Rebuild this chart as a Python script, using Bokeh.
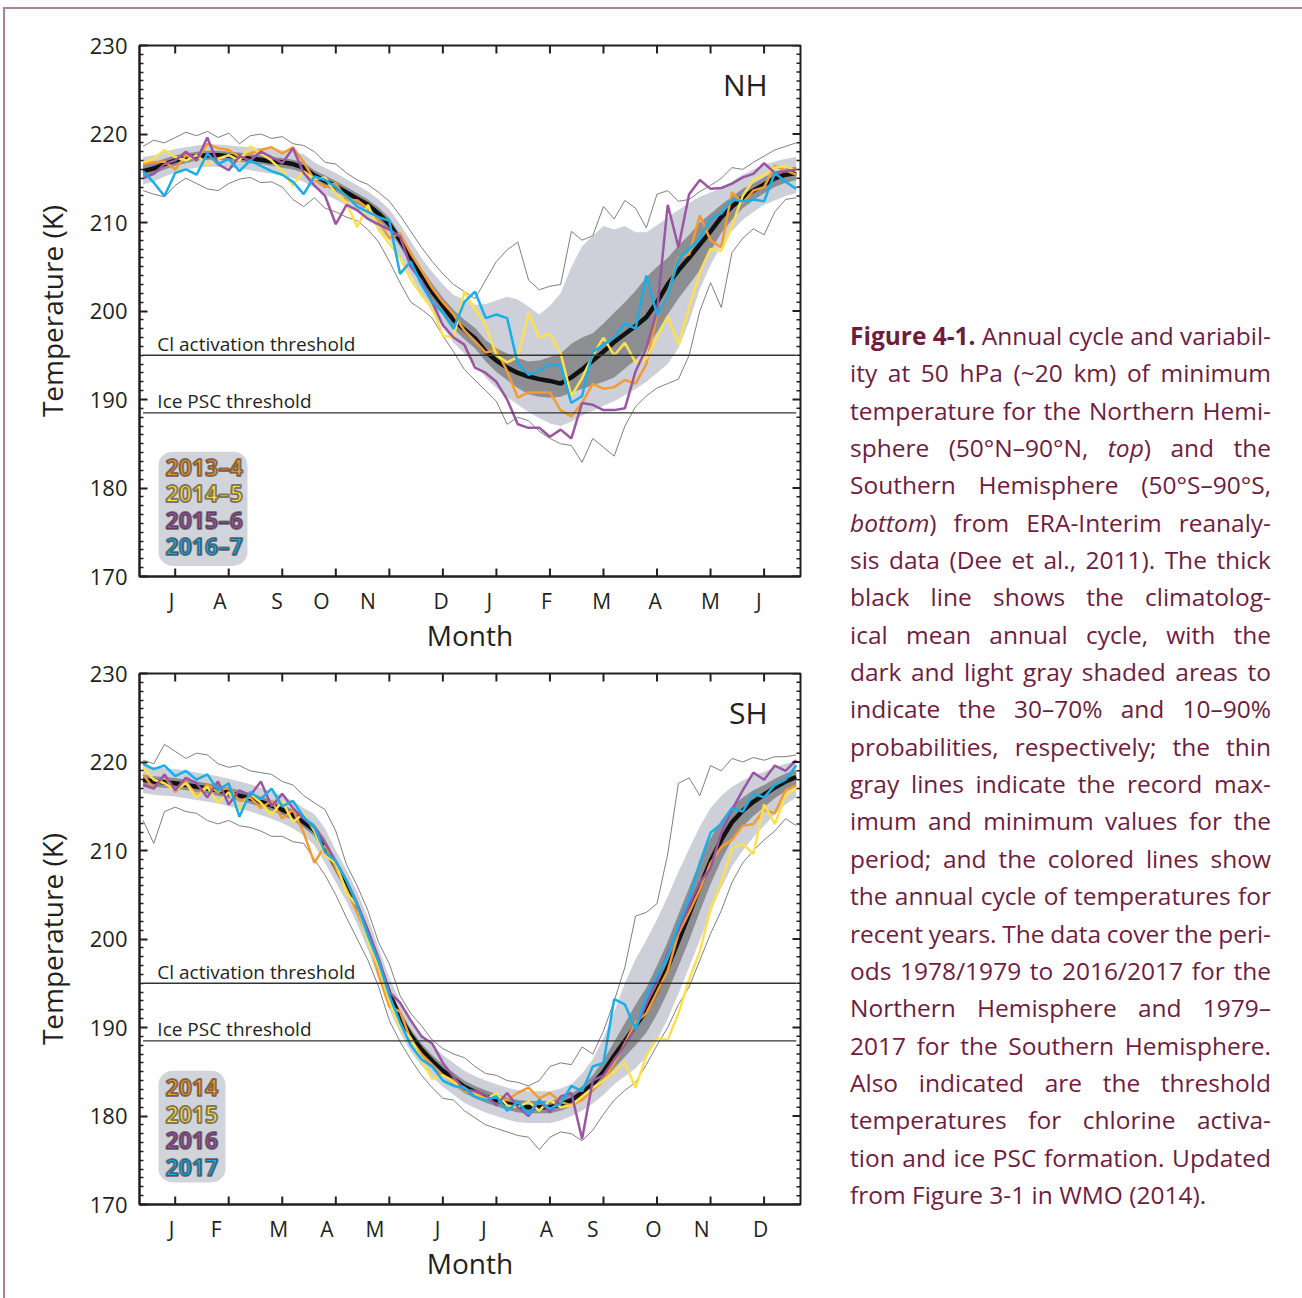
import math
from bokeh.plotting import figure
from bokeh.models import Range1d, FixedTicker, Div, CustomJSTickFormatter
from bokeh.layouts import row, column
from bokeh.embed import file_html
from bokeh.resources import INLINE
from bokeh.core.properties import value

# ---------------- data ----------------
# x positions: days from the first month tick (one month tick every 30 units)
DAY = [-18, -12, -6, 0, 6, 12, 18, 24, 30, 36, 42, 48, 54, 60, 66, 72, 78, 84, 90, 96,
       102, 108, 114, 120, 126, 132, 138, 144, 150, 156, 162, 168, 174, 180, 186, 192, 198,
       204, 210, 216, 222, 228, 234, 240, 246, 252, 258, 264, 270, 276, 282, 288, 294, 300,
       306, 312, 318, 324, 330, 336, 342, 348]
X_MIN, X_MAX = -20, 350.4
Y_MIN, Y_MAX = 170, 230

MONTH_TICKS = [0, 30, 60, 90, 120, 150, 180, 210, 240, 270, 300, 330]
NH_MONTHS = ["J", "A", "S", "O", "N", "D", "J", "F", "M", "A", "M", "J"]
NH_MONTH_POS = [-2, 25, 57, 82, 108, 149, 176, 208, 239, 269, 300, 327]
SH_MONTHS = ["J", "F", "M", "A", "M", "J", "J", "A", "S", "O", "N", "D"]
SH_MONTH_POS = [-2, 23, 58, 85, 112, 147, 173, 208, 234, 268, 295, 328]
TEMP_TICKS = [170, 180, 190, 200, 210, 220, 230]

CL_THRESHOLD = 195.0
ICE_THRESHOLD = 188.5

NH_YEARS = ["2013\u20134", "2014\u20135", "2015\u20136", "2016\u20137"]
SH_YEARS = ["2014", "2015", "2016", "2017"]
YEAR_COLORS = ["#F39B30", "#FBE150", "#9B56A3", "#1AAEE8"]

NH_MEAN = [215.8, 216.1, 216.6, 217.0, 217.3, 217.5, 217.6, 217.6, 217.5, 217.4,
           217.2, 217.1, 216.9, 216.8, 216.6, 216.2, 215.3, 214.7, 214.1, 213.4,
           212.7, 212.0, 211.0, 209.8, 208.0, 206.0, 204.0, 202.2, 200.6, 199.0,
           197.9, 196.9, 195.4, 194.4, 193.6, 193.0, 192.6, 192.3, 192.1, 191.8,
           192.5, 193.4, 194.4, 195.4, 196.5, 197.4, 198.3, 199.3, 201.0, 203.0,
           204.6, 206.0, 207.5, 209.0, 210.6, 211.8, 212.8, 213.6, 214.3, 215.0,
           215.4, 215.6]
NH_P90 = [217.4, 217.6, 218.0, 218.3, 218.5, 218.7, 218.8, 218.8, 218.7, 218.6,
          218.5, 218.4, 218.3, 218.2, 218.0, 217.7, 216.8, 216.2, 215.6, 214.9,
          214.2, 213.5, 212.6, 211.5, 209.8, 207.9, 206.0, 204.4, 203.0, 201.8,
          201.3, 200.7, 200.8, 201.2, 201.6, 201.3, 200.5, 199.6, 200.6, 202.0,
          205.0, 207.3, 208.5, 209.6, 209.2, 209.6, 208.9, 208.9, 209.7, 210.6,
          211.4, 212.2, 212.9, 213.4, 213.9, 214.6, 215.4, 216.0, 216.5, 216.9,
          217.2, 217.4]
NH_P70 = [216.5, 216.8, 217.2, 217.6, 217.8, 218.0, 218.1, 218.1, 218.0, 217.9,
          217.7, 217.6, 217.4, 217.3, 217.1, 216.8, 215.9, 215.3, 214.7, 214.0,
          213.3, 212.6, 211.7, 210.5, 208.7, 206.8, 204.8, 203.1, 201.5, 200.1,
          199.0, 198.1, 196.7, 195.8, 195.2, 194.7, 194.3, 194.4, 194.8, 195.2,
          196.3, 197.0, 197.5, 198.6, 199.8, 201.0, 202.3, 203.8, 205.0, 206.0,
          207.4, 208.6, 210.0, 211.0, 212.0, 212.9, 213.8, 214.4, 215.1, 215.7,
          216.1, 216.3]
NH_P30 = [215.2, 215.5, 216.0, 216.4, 216.7, 217.0, 217.1, 217.1, 217.0, 216.9,
          216.7, 216.6, 216.4, 216.2, 216.0, 215.6, 214.7, 214.1, 213.5, 212.8,
          212.1, 211.4, 210.3, 209.1, 207.3, 205.2, 203.2, 201.3, 199.7, 198.0,
          196.8, 195.8, 194.3, 193.1, 192.2, 191.3, 190.6, 190.3, 190.2, 190.3,
          190.8, 191.2, 191.6, 192.0, 192.5, 193.5, 194.5, 195.8, 197.6, 199.6,
          201.4, 203.0, 204.6, 206.8, 208.8, 210.3, 211.6, 212.5, 213.3, 214.0,
          214.5, 214.8]
NH_P10 = [214.3, 214.6, 215.2, 215.6, 216.0, 216.2, 216.3, 216.3, 216.2, 216.1,
          215.9, 215.7, 215.5, 215.3, 215.0, 214.6, 213.9, 213.2, 212.6, 211.9,
          211.2, 210.4, 209.3, 208.0, 206.1, 204.0, 201.9, 199.9, 198.2, 196.4,
          195.2, 194.0, 192.5, 191.3, 190.3, 189.4, 188.6, 187.9, 187.3, 187.0,
          187.5, 188.2, 188.7, 189.3, 189.8, 190.5, 191.2, 192.0, 193.0, 194.0,
          195.8, 198.8, 202.5, 205.2, 207.4, 209.0, 210.3, 211.2, 212.0, 212.5,
          213.0, 213.3]
NH_RMAX = [218.6, 219.3, 219.0, 219.6, 220.2, 219.8, 220.3, 219.6, 220.1, 218.9,
           219.8, 220.0, 219.5, 219.7, 218.9, 218.7, 218.0, 216.8, 216.6, 215.6,
           214.8, 214.3, 213.4, 212.4, 210.8, 209.0, 207.2, 205.6, 204.2, 203.0,
           202.2, 201.4, 203.5, 205.6, 206.9, 207.8, 203.5, 202.4, 202.8, 203.0,
           209.0, 208.0, 208.5, 211.8, 210.4, 212.5, 211.6, 209.4, 213.2, 213.6,
           212.4, 212.6, 213.5, 214.2, 215.0, 216.2, 216.0, 216.8, 217.5, 218.2,
           218.6, 219.0]
NH_RMIN = [213.6, 213.2, 212.9, 214.2, 215.0, 214.4, 213.8, 213.6, 214.4, 214.9,
           215.1, 214.5, 214.6, 214.0, 212.6, 211.8, 212.8, 211.6, 211.2, 210.6,
           210.2, 209.2, 207.8, 205.6, 203.2, 201.0, 200.2, 199.2, 197.2, 195.4,
           193.4, 192.2, 191.0, 189.8, 187.2, 188.0, 187.6, 186.4, 185.6, 185.0,
           184.8, 182.9, 185.6, 184.6, 183.6, 187.0, 189.2, 190.4, 191.3, 191.8,
           192.3, 195.0, 200.0, 203.2, 200.4, 206.6, 208.2, 209.3, 208.6, 211.2,
           212.6, 212.8]
NH_2013_4 = [216.6, 216.8, 216.9, 216.0, 217.6, 217.0, 218.9, 218.4, 218.2, 217.4,
             217.8, 218.2, 218.5, 217.8, 218.5, 216.8, 214.8, 214.0, 214.4, 212.6,
             212.5, 211.6, 210.2, 208.2, 208.8, 206.5, 204.6, 202.6, 201.0, 199.6,
             197.8, 196.6, 195.3, 195.6, 193.2, 190.2, 190.8, 190.8, 190.8, 188.8,
             188.1, 189.6, 191.8, 191.2, 191.4, 192.2, 191.8, 194.0, 199.6, 202.0,
             206.0, 206.4, 210.8, 208.0, 207.2, 213.4, 212.2, 213.6, 214.0, 216.4,
             215.9, 215.4]
NH_2014_5 = [216.8, 217.2, 218.2, 217.4, 217.0, 217.6, 216.5, 217.2, 217.6, 217.0,
             218.6, 217.8, 217.0, 215.8, 214.2, 215.8, 214.9, 215.1, 213.2, 212.2,
             209.5, 212.0, 209.2, 207.6, 206.0, 203.6, 201.8, 200.4, 197.2, 197.0,
             202.2, 200.2, 198.4, 195.0, 194.2, 194.8, 199.8, 197.0, 197.4, 195.2,
             190.4, 192.4, 195.0, 197.0, 195.0, 196.4, 194.2, 194.6, 197.0, 199.4,
             196.2, 200.4, 204.4, 207.0, 206.8, 209.6, 213.0, 214.8, 215.4, 216.2,
             216.4, 215.8]
NH_2015_6 = [215.0, 215.5, 216.6, 217.0, 218.0, 217.0, 219.6, 216.6, 215.9, 217.5,
             217.0, 218.0, 217.4, 216.7, 218.4, 215.6, 214.2, 213.0, 209.8, 212.0,
             211.4, 210.4, 209.8, 209.2, 208.4, 205.0, 203.4, 201.0, 198.4, 197.0,
             196.2, 193.6, 193.0, 192.0, 190.0, 187.2, 186.8, 186.8, 185.8, 186.6,
             185.6, 189.6, 189.4, 188.8, 188.8, 189.0, 193.2, 195.8, 200.0, 212.0,
             207.2, 213.2, 214.8, 213.8, 213.9, 214.4, 215.1, 215.5, 216.7, 215.6,
             215.8, 216.0]
NH_2016_7 = [215.8, 214.5, 213.0, 215.6, 216.0, 215.4, 217.8, 216.6, 217.2, 215.8,
             217.0, 216.4, 215.8, 215.4, 214.6, 213.2, 215.2, 214.8, 214.0, 213.0,
             211.8, 211.2, 210.6, 210.2, 204.2, 205.6, 203.0, 201.0, 199.8, 198.0,
             201.0, 202.2, 199.2, 199.6, 199.2, 194.0, 192.8, 193.2, 194.0, 193.8,
             189.6, 190.4, 195.4, 196.2, 197.0, 198.6, 198.0, 204.0, 199.6, 201.8,
             205.8, 207.0, 208.2, 210.4, 211.0, 212.6, 212.4, 212.6, 212.4, 215.6,
             214.6, 213.8]

SH_MEAN = [218.0, 217.8, 217.7, 217.6, 217.4, 217.2, 217.0, 216.8, 216.5, 216.2,
           215.9, 215.5, 215.1, 214.6, 214.0, 213.2, 212.3, 210.5, 208.2, 206.0,
           203.5, 200.6, 197.2, 193.8, 191.2, 189.1, 187.5, 186.2, 185.1, 184.2,
           183.3, 182.7, 182.2, 181.8, 181.4, 181.1, 181.0, 181.0, 181.0, 181.3,
           181.8, 182.6, 183.6, 185.0, 186.8, 188.5, 190.2, 191.9, 194.2, 196.8,
           199.8, 202.8, 205.9, 208.8, 211.2, 213.2, 214.5, 215.5, 216.3, 217.1,
           217.8, 218.3]
SH_P90 = [219.6, 219.4, 219.3, 219.2, 219.0, 218.8, 218.6, 218.4, 218.1, 217.8,
          217.5, 217.1, 216.7, 216.2, 215.6, 214.8, 214.1, 212.5, 210.0, 207.8,
          205.3, 202.4, 199.0, 195.6, 193.0, 190.9, 189.3, 188.0, 186.9, 186.0,
          185.1, 184.5, 184.0, 183.6, 183.2, 182.9, 182.8, 182.8, 182.8, 183.1,
          183.6, 184.8, 186.4, 188.8, 191.8, 195.0, 197.7, 199.9, 202.2, 204.8,
          207.6, 210.2, 212.7, 214.8, 216.2, 217.2, 217.9, 218.5, 218.9, 219.4,
          219.8, 220.1]
SH_P70 = [218.6, 218.4, 218.3, 218.2, 218.0, 217.8, 217.6, 217.4, 217.1, 216.8,
          216.5, 216.1, 215.7, 215.2, 214.6, 213.8, 213.0, 211.3, 208.9, 206.7,
          204.2, 201.3, 197.9, 194.5, 191.9, 189.8, 188.2, 186.9, 185.8, 184.9,
          184.0, 183.4, 182.9, 182.5, 182.1, 181.8, 181.7, 181.7, 181.7, 182.0,
          182.5, 183.4, 184.6, 186.3, 188.4, 190.5, 192.6, 194.5, 197.0, 199.7,
          202.8, 205.8, 208.8, 211.4, 213.4, 215.0, 216.0, 216.8, 217.4, 218.1,
          218.7, 219.1]
SH_P30 = [217.4, 217.2, 217.1, 217.0, 216.8, 216.6, 216.4, 216.2, 215.9, 215.6,
          215.3, 214.9, 214.5, 214.0, 213.4, 212.6, 211.6, 209.7, 207.5, 205.3,
          202.8, 199.9, 196.5, 193.1, 190.5, 188.4, 186.8, 185.5, 184.4, 183.5,
          182.6, 182.0, 181.5, 181.1, 180.7, 180.4, 180.3, 180.3, 180.3, 180.6,
          181.1, 181.8, 182.7, 183.9, 185.4, 186.7, 188.0, 189.4, 191.5, 194.0,
          196.9, 199.9, 203.1, 206.2, 208.9, 211.2, 212.7, 213.9, 214.9, 215.9,
          216.7, 217.3]
SH_P10 = [216.5, 216.3, 216.2, 216.1, 215.9, 215.7, 215.5, 215.3, 215.0, 214.7,
          214.4, 214.0, 213.6, 213.1, 212.5, 211.7, 210.6, 208.6, 206.4, 204.2,
          201.7, 198.8, 195.4, 192.0, 189.4, 187.3, 185.7, 184.4, 183.3, 182.4,
          181.5, 180.9, 180.4, 180.0, 179.6, 179.3, 179.2, 179.2, 179.2, 179.5,
          180.0, 180.6, 181.4, 182.4, 183.6, 184.5, 185.4, 186.7, 188.6, 191.0,
          193.8, 196.8, 199.9, 203.0, 205.8, 208.2, 210.0, 211.5, 212.8, 214.1,
          215.2, 216.0]
SH_RMAX = [220.2, 219.8, 222.0, 221.2, 220.4, 221.0, 220.8, 219.8, 219.4, 219.6,
           219.0, 218.8, 218.6, 217.8, 217.4, 216.2, 215.4, 214.6, 212.2, 208.4,
           206.0, 203.2, 199.6, 197.2, 193.6, 191.6, 190.2, 188.6, 187.6, 187.0,
           186.6, 185.6, 184.8, 184.6, 184.0, 183.8, 183.4, 184.0, 185.6, 186.0,
           185.8, 187.8, 187.0, 189.6, 193.0, 196.8, 202.6, 203.0, 204.0, 209.6,
           217.6, 218.2, 216.2, 219.6, 219.0, 220.4, 220.0, 220.5, 220.2, 220.6,
           220.6, 220.8]
SH_RMIN = [213.4, 210.8, 214.4, 214.9, 214.4, 214.2, 213.4, 213.0, 213.4, 212.8,
           212.6, 212.2, 211.6, 211.6, 211.0, 210.8, 209.0, 207.2, 205.0, 202.4,
           200.0, 197.6, 194.6, 190.8, 188.4, 186.4, 184.6, 183.2, 182.0, 181.8,
           180.6, 179.8, 179.0, 178.6, 178.2, 177.8, 177.6, 176.2, 177.6, 178.2,
           178.0, 177.2, 178.4, 180.2, 181.8, 182.9, 183.8, 185.8, 188.0, 190.0,
           192.6, 194.6, 197.6, 200.6, 203.2, 206.4, 208.6, 210.0, 211.2, 212.2,
           213.6, 212.8]
SH_2014 = [218.6, 217.0, 218.4, 216.6, 217.8, 216.2, 217.4, 216.6, 217.2, 215.6,
           216.0, 214.8, 215.6, 213.6, 214.6, 212.0, 208.6, 210.6, 208.0, 205.6,
           203.0, 200.2, 196.0, 192.4, 191.8, 188.6, 187.0, 185.8, 184.6, 184.0,
           182.8, 182.6, 182.0, 182.4, 181.8, 182.6, 183.2, 182.0, 182.6, 181.6,
           181.2, 181.8, 183.0, 184.0, 186.0, 188.2, 190.6, 191.6, 194.0, 196.4,
           200.6, 203.0, 205.6, 208.6, 210.4, 211.2, 212.8, 213.0, 214.6, 214.2,
           216.8, 217.4]
SH_2015 = [219.4, 218.0, 217.6, 216.8, 217.6, 216.0, 217.2, 215.4, 216.6, 214.6,
           216.4, 215.4, 214.0, 215.6, 213.2, 214.2, 212.2, 209.4, 208.6, 205.2,
           203.8, 199.8, 196.8, 193.0, 190.0, 188.8, 186.4, 184.2, 184.6, 183.8,
           183.2, 182.4, 181.8, 182.6, 181.2, 181.0, 181.6, 180.6, 181.8, 181.0,
           181.2, 182.2, 183.2, 184.0, 185.0, 186.0, 183.2, 186.8, 188.8, 188.6,
           191.6, 195.4, 198.6, 203.4, 206.4, 210.2, 210.8, 209.6, 215.2, 213.0,
           216.2, 217.0]
SH_2016 = [217.4, 217.0, 218.6, 216.8, 218.2, 217.6, 216.0, 217.8, 215.2, 216.8,
           216.2, 217.8, 215.0, 216.4, 214.8, 213.6, 212.6, 210.8, 208.8, 206.6,
           204.0, 201.0, 197.8, 194.0, 192.8, 190.8, 189.0, 188.2, 186.0, 184.4,
           183.0, 182.8, 182.4, 181.2, 182.6, 181.0, 180.0, 181.8, 180.4, 182.2,
           182.6, 177.4, 184.0, 184.6, 186.4, 188.0, 190.0, 192.6, 195.4, 198.4,
           201.0, 203.8, 206.4, 208.0, 212.0, 214.6, 216.8, 218.8, 218.0, 219.6,
           219.0, 220.2]
SH_2017 = [219.8, 219.2, 219.6, 218.4, 219.0, 218.0, 218.6, 216.8, 217.6, 213.8,
           216.6, 215.8, 217.0, 215.0, 215.6, 213.8, 212.6, 209.8, 208.8, 206.6,
           203.8, 200.4, 197.4, 193.6, 190.6, 188.0, 186.4, 185.6, 184.0, 183.4,
           183.2, 182.2, 181.8, 182.2, 180.6, 181.6, 180.2, 181.8, 180.8, 181.4,
           183.4, 182.8, 185.6, 186.0, 193.2, 192.6, 189.8, 193.6, 195.8, 198.0,
           201.6, 204.6, 208.6, 212.0, 213.0, 214.8, 214.4, 216.4, 216.0, 217.4,
           218.0, 219.6]

CAPTION_LINES = [
    "<b>Figure</b> <b>4-1.</b> Annual cycle and variabil-",
    "ity at 50 hPa (~20 km) of minimum",
    "temperature for the Northern Hemi-",
    "sphere (50\u00b0N\u201390\u00b0N, <i>top</i>) and the",
    "Southern Hemisphere (50\u00b0S\u201390\u00b0S,",
    "<i>bottom</i>) from ERA-Interim reanaly-",
    "sis data (Dee et al., 2011). The thick",
    "black line shows the climatolog-",
    "ical mean annual cycle, with the",
    "dark and light gray shaded areas to",
    "indicate the 30\u201370% and 10\u201390%",
    "probabilities, respectively; the thin",
    "gray lines indicate the record max-",
    "imum and minimum values for the",
    "period; and the colored lines show",
    "the annual cycle of temperatures for",
    "recent years. The data cover the peri-",
    "ods 1978/1979 to 2016/2017 for the",
    "Northern Hemisphere and 1979\u2013",
    "2017 for the Southern Hemisphere.",
    "Also indicated are the threshold",
    "temperatures for chlorine activa-",
    "tion and ice PSC formation. Updated",
    "from Figure 3-1 in WMO (2014).",
]

# ---------------- styling ----------------
INK = "#231F20"
FONT = "Open Sans"
MINOR = [t for t in range(171, 230) if t % 10 != 0]


def make_panel(mean, p90, p70, p30, p10, rmax, rmin, years, year_labels,
               months, month_pos, hemi, top_border, bottom_border, legend_box):
    p = figure(frame_width=661, frame_height=531,
               x_range=Range1d(X_MIN, X_MAX), y_range=Range1d(Y_MIN, Y_MAX),
               output_backend="svg", toolbar_location=None,
               min_border_left=134, min_border_right=15,
               min_border_top=top_border, min_border_bottom=bottom_border,
               background_fill_color="white", border_fill_color="white")
    p.grid.visible = False
    p.outline_line_color = INK
    p.outline_line_width = 2

    # bottom axis: month letters (tick marks drawn separately)
    fmt = CustomJSTickFormatter(args=dict(pos=month_pos, labs=months),
                                code="const i = pos.indexOf(tick); return i < 0 ? '' : labs[i];")
    xl = p.xaxis[0]
    xl.ticker = FixedTicker(ticks=month_pos)
    xl.formatter = fmt
    xl.major_tick_in = 0
    xl.major_tick_out = 0
    xl.minor_tick_in = 0
    xl.minor_tick_out = 0
    xl.axis_line_width = 2
    xl.axis_line_color = INK
    xl.major_label_standoff = 10
    xl.major_label_text_font = FONT
    xl.major_label_text_font_size = "21px"
    xl.major_label_text_color = INK
    xl.axis_label = "Month"
    xl.axis_label_text_font = FONT
    xl.axis_label_text_font_style = "normal"
    xl.axis_label_text_font_size = "28px"
    xl.axis_label_text_color = INK
    xl.axis_label_standoff = -2

    # left axis
    yl = p.yaxis[0]
    yl.ticker = FixedTicker(ticks=TEMP_TICKS, minor_ticks=MINOR)
    yl.major_tick_in = 8
    yl.major_tick_out = 0
    yl.minor_tick_in = 4
    yl.minor_tick_out = 0
    yl.major_tick_line_width = 2
    yl.minor_tick_line_width = 1.5
    yl.major_tick_line_color = INK
    yl.minor_tick_line_color = INK
    yl.axis_line_width = 2
    yl.axis_line_color = INK
    yl.major_label_standoff = 12
    yl.major_label_text_font = FONT
    yl.major_label_text_font_size = "22px"
    yl.major_label_text_color = INK
    yl.axis_label = "Temperature (K)"
    yl.axis_label_text_font = FONT
    yl.axis_label_text_font_style = "normal"
    yl.axis_label_text_font_size = "28px"
    yl.axis_label_text_color = INK
    yl.axis_label_standoff = 16

    # bands, records, mean, years
    p.varea(x=DAY, y1=p10, y2=p90, fill_color="#CDD0D8")
    p.varea(x=DAY, y1=p30, y2=p70, fill_color="#8D8E92")
    p.line(DAY, rmax, line_color="#707070", line_width=0.9)
    p.line(DAY, rmin, line_color="#707070", line_width=0.9)
    p.line(DAY, mean, line_color="#111111", line_width=4.5)
    for ys, col in zip(years, YEAR_COLORS):
        p.line(DAY, ys, line_color=col, line_width=2.5)

    # inward tick marks on bottom, top and right edges of the frame
    n_m = len(MONTH_TICKS)
    p.ray(x=MONTH_TICKS, y=[Y_MIN] * n_m, length=8, angle=math.pi / 2,
          length_units="screen", line_color=INK, line_width=2)
    p.ray(x=MONTH_TICKS, y=[Y_MAX] * n_m, length=8, angle=-math.pi / 2,
          length_units="screen", line_color=INK, line_width=2)
    p.ray(x=[X_MAX] * len(TEMP_TICKS), y=TEMP_TICKS, length=8, angle=math.pi,
          length_units="screen", line_color=INK, line_width=2)
    p.ray(x=[X_MAX] * len(MINOR), y=MINOR, length=4, angle=math.pi,
          length_units="screen", line_color=INK, line_width=1.5)

    # thresholds
    p.segment(x0=[DAY[0], DAY[0]], y0=[CL_THRESHOLD, ICE_THRESHOLD],
              x1=[DAY[-1], DAY[-1]], y1=[CL_THRESHOLD, ICE_THRESHOLD],
              line_color="#333333", line_width=1.3)
    p.text(x=[-10, -10], y=[CL_THRESHOLD + 1.3, ICE_THRESHOLD + 1.3],
           text=["Cl activation threshold", "Ice PSC threshold"],
           text_font=value(FONT), text_font_size="19px", text_color=INK,
           text_baseline="alphabetic", text_align="left")

    # hemisphere tag
    p.text(x=[332], y=[225.6], text=[hemi], text_font=value(FONT),
           text_font_size="30px", text_color=INK, text_align="right",
           text_baseline="middle")

    # legend box
    l, r, b, t, ys_text = legend_box
    try:
        p.quad(left=[l], right=[r], bottom=[b], top=[t], fill_color="#D2D4DC",
               line_color=None, border_radius=14)
    except Exception:
        p.quad(left=[l], right=[r], bottom=[b], top=[t], fill_color="#D2D4DC",
               line_color=None)
    kw = dict(x=[-5.4] * 4, y=ys_text, text=year_labels, text_color=YEAR_COLORS,
              text_font=value(FONT), text_font_style="bold", text_font_size="23px",
              text_baseline="middle", text_align="left")
    try:
        p.text(text_outline_color="rgba(45,35,35,0.55)", **kw)
    except Exception:
        p.text(**kw)
    return p


p1 = make_panel(NH_MEAN, NH_P90, NH_P70, NH_P30, NH_P10, NH_RMAX, NH_RMIN,
                [NH_2013_4, NH_2014_5, NH_2015_6, NH_2016_7], NH_YEARS,
                NH_MONTHS, NH_MONTH_POS, "NH", 36, 82,
                (-9.4, 40.5, 171.2, 184.1, [182.4, 179.4, 176.4, 173.5]))
p2 = make_panel(SH_MEAN, SH_P90, SH_P70, SH_P30, SH_P10, SH_RMAX, SH_RMIN,
                [SH_2014, SH_2015, SH_2016, SH_2017], SH_YEARS,
                SH_MONTHS, SH_MONTH_POS, "SH", 15, 90,
                (-9.4, 28.2, 172.5, 185.1, [183.2, 180.2, 177.2, 174.2]))

# caption
rows_html = []
for i, line in enumerate(CAPTION_LINES):
    if i < len(CAPTION_LINES) - 1:
        spans = "".join("<span>%s</span>" % w for w in line.split(" "))
        rows_html.append('<div style="display:flex;justify-content:space-between;'
                         'white-space:nowrap;height:37.35px;line-height:37.35px;">%s</div>' % spans)
    else:
        rows_html.append('<div style="white-space:nowrap;height:37.35px;'
                         'line-height:37.35px;">%s</div>' % line)
caption_html = ('<div style="margin:303px 0 0 30px;width:421px;font-family:\'Open Sans\';'
                'font-size:24.5px;letter-spacing:0px;color:#6E1D40;">%s</div>' % "".join(rows_html))
caption = Div(text=caption_html, width=487, height=1285)

root = row(column(p1, p2), caption,
           styles={"margin-top": "7px", "margin-left": "3px",
                   "border-top": "2px solid #A9828F", "border-left": "2px solid #A9828F"})

open("out.html", "w").write(file_html(root, INLINE))
